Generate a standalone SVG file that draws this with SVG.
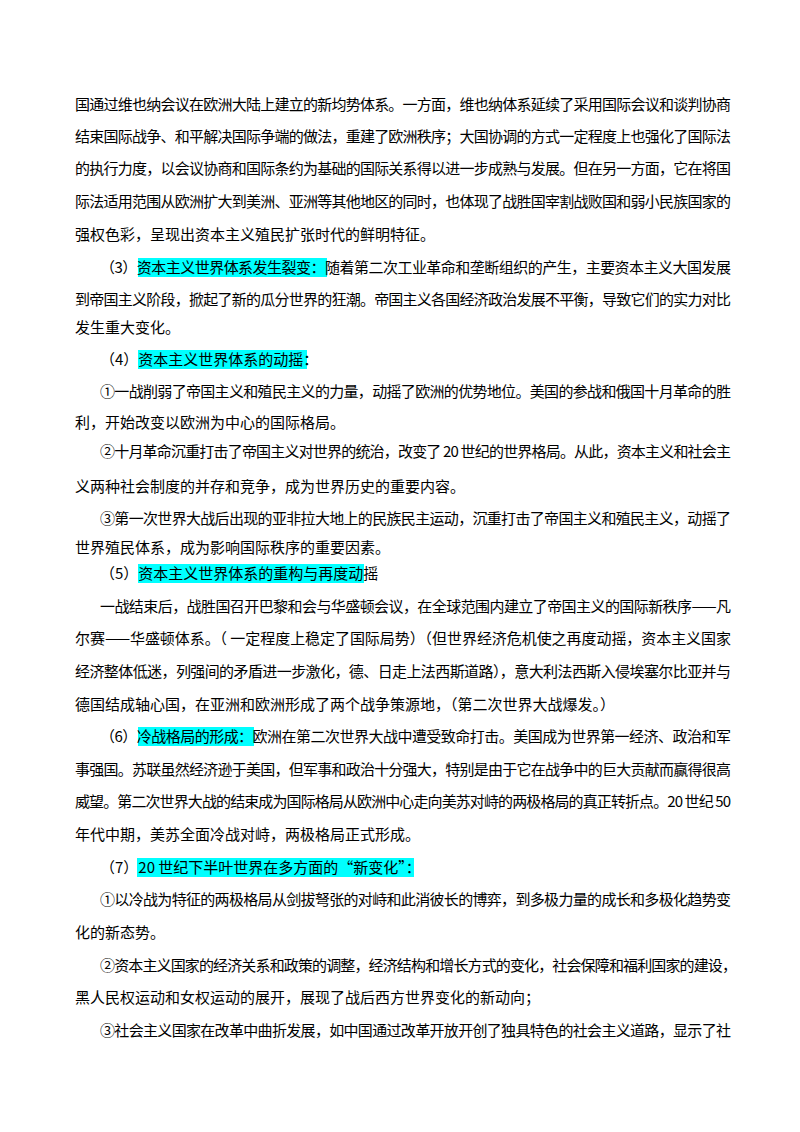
<svg xmlns="http://www.w3.org/2000/svg" width="800" height="1132" viewBox="0 0 800 1132">
<style>
text{font-family:"Noto Sans CJK SC","Noto Sans CJK JP",serif;font-size:15px;fill:#000}
.hl{fill:#00ffff}
</style>
<rect width="800" height="1132" fill="#fff"/>
<g id="highlights">
<rect class="hl" x="138" y="258" width="189" height="19"/>
<rect class="hl" x="138" y="350" width="169" height="19"/>
<rect class="hl" x="138" y="564" width="226" height="19"/>
<rect class="hl" x="138" y="727" width="116" height="19"/>
<rect class="hl" x="137" y="858" width="277" height="19"/>
</g>
<g id="text">
<text x="75" y="110" textLength="656" lengthAdjust="spacing">国通过维也纳会议在欧洲大陆上建立的新均势体系。一方面，维也纳体系延续了采用国际会议和谈判协商</text>
<text x="75" y="142" textLength="656" lengthAdjust="spacing">结束国际战争、和平解决国际争端的做法，重建了欧洲秩序；大国协调的方式一定程度上也强化了国际法</text>
<text x="75" y="174" textLength="656" lengthAdjust="spacing">的执行力度，以会议协商和国际条约为基础的国际关系得以进一步成熟与发展。但在另一方面，它在将国</text>
<text x="75" y="207" textLength="656" lengthAdjust="spacing">际法适用范围从欧洲扩大到美洲、亚洲等其他地区的同时，也体现了战胜国宰割战败国和弱小民族国家的</text>
<text x="75" y="240">强权色彩，呈现出资本主义殖民扩张时代的鲜明特征。</text>
<text x="100" y="273" textLength="631" lengthAdjust="spacing">（3）资本主义世界体系发生裂变：随着第二次工业革命和垄断组织的产生，主要资本主义大国发展</text>
<text x="75" y="305" textLength="656" lengthAdjust="spacing">到帝国主义阶段，掀起了新的瓜分世界的狂潮。帝国主义各国经济政治发展不平衡，导致它们的实力对比</text>
<text x="75" y="333">发生重大变化。</text>
<text x="100" y="365">（4）资本主义世界体系的动摇：</text>
<text x="100" y="397" textLength="631" lengthAdjust="spacing">①一战削弱了帝国主义和殖民主义的力量，动摇了欧洲的优势地位。美国的参战和俄国十月革命的胜</text>
<text x="75" y="428">利，开始改变以欧洲为中心的国际格局。</text>
<text x="100" y="457" textLength="631" lengthAdjust="spacing">②十月革命沉重打击了帝国主义对世界的统治，改变了 20 世纪的世界格局。从此，资本主义和社会主</text>
<text x="75" y="492">义两种社会制度的并存和竞争，成为世界历史的重要内容。</text>
<text x="100" y="524" textLength="631" lengthAdjust="spacing">③第一次世界大战后出现的亚非拉大地上的民族民主运动，沉重打击了帝国主义和殖民主义，动摇了</text>
<text x="75" y="553">世界殖民体系，成为影响国际秩序的重要因素。</text>
<text x="100" y="579">（5）资本主义世界体系的重构与再度动摇</text>
<text x="100" y="612" textLength="631" lengthAdjust="spacing">一战结束后，战胜国召开巴黎和会与华盛顿会议，在全球范围内建立了帝国主义的国际新秩序——凡</text>
<text x="75" y="644" textLength="656" lengthAdjust="spacing">尔赛——华盛顿体系。（ 一定程度上稳定了国际局势）（但世界经济危机使之再度动摇，资本主义国家</text>
<text x="75" y="677" textLength="656" lengthAdjust="spacing">经济整体低迷，列强间的矛盾进一步激化，德、日走上法西斯道路），意大利法西斯入侵埃塞尔比亚并与</text>
<text x="75" y="710">德国结成轴心国，在亚洲和欧洲形成了两个战争策源地，（第二次世界大战爆发。）</text>
<text x="100" y="742" textLength="631" lengthAdjust="spacing">（6）冷战格局的形成：欧洲在第二次世界大战中遭受致命打击。美国成为世界第一经济、政治和军</text>
<text x="75" y="775" textLength="656" lengthAdjust="spacing">事强国。苏联虽然经济逊于美国，但军事和政治十分强大，特别是由于它在战争中的巨大贡献而赢得很高</text>
<text x="75" y="807" textLength="656" lengthAdjust="spacing">威望。第二次世界大战的结束成为国际格局从欧洲中心走向美苏对峙的两极格局的真正转折点。20 世纪 50</text>
<text x="75" y="840">年代中期，美苏全面冷战对峙，两极格局正式形成。</text>
<text x="100" y="873">（7）20 世纪下半叶世界在多方面的“新变化”：</text>
<text x="100" y="905" textLength="631" lengthAdjust="spacing">①以冷战为特征的两极格局从剑拔弩张的对峙和此消彼长的博弈，到多极力量的成长和多极化趋势变</text>
<text x="75" y="938">化的新态势。</text>
<text x="100" y="971" textLength="637" lengthAdjust="spacing">②资本主义国家的经济关系和政策的调整，经济结构和增长方式的变化，社会保障和福利国家的建设，</text>
<text x="75" y="1003">黑人民权运动和女权运动的展开，展现了战后西方世界变化的新动向；</text>
<text x="100" y="1036" textLength="631" lengthAdjust="spacing">③社会主义国家在改革中曲折发展，如中国通过改革开放开创了独具特色的社会主义道路，显示了社</text>
</g>
</svg>
